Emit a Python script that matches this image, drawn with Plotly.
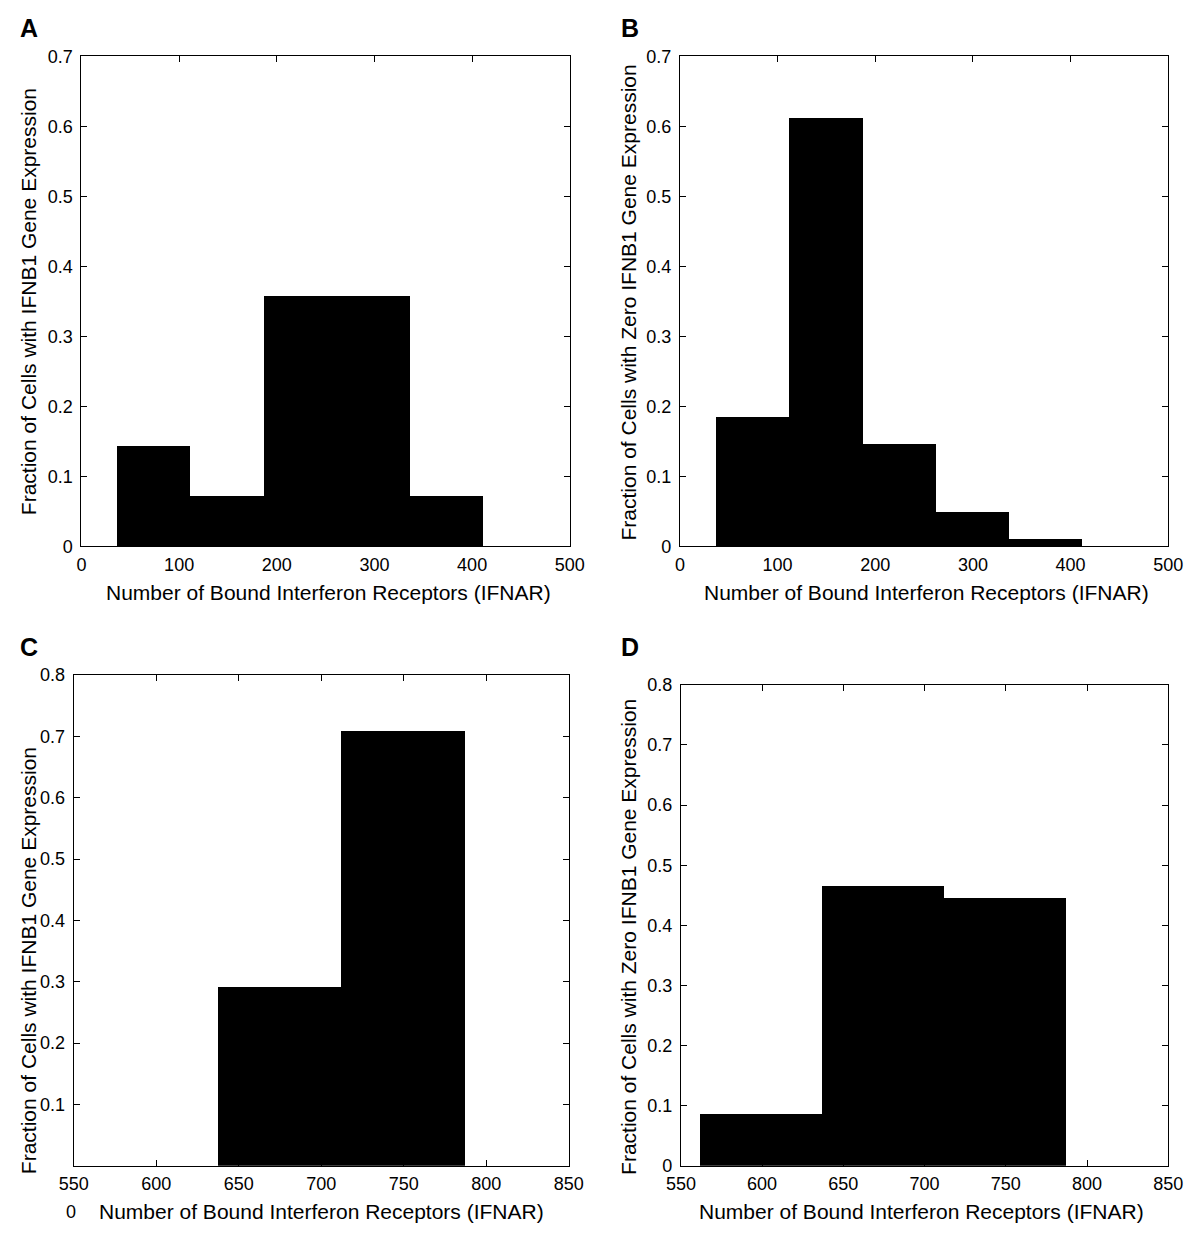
import plotly.graph_objects as go

# Reference canvas size and the page's default body margin
REF_W, REF_H = 1200, 1235
OFF = 8
W, H = REF_W - 2 * OFF, REF_H - 2 * OFF

# ---------------- data ----------------
edges_AB = [37, 112, 187, 262, 337, 412]
values_A = [0.143, 0.071, 0.357, 0.357, 0.071]
values_B = [0.184, 0.612, 0.146, 0.048, 0.010]

edges_C = [637, 712, 787]
values_C = [0.292, 0.709]

edges_D = [562, 637, 712, 787]
values_D = [0.086, 0.465, 0.446]

xticks_AB = [0, 100, 200, 300, 400, 500]
yticks_AB = [0, 0.1, 0.2, 0.3, 0.4, 0.5, 0.6, 0.7]
xticks_CD = [550, 600, 650, 700, 750, 800, 850]
yticks_C = [0.1, 0.2, 0.3, 0.4, 0.5, 0.6, 0.7, 0.8]
yticks_D = [0, 0.1, 0.2, 0.3, 0.4, 0.5, 0.6, 0.7, 0.8]

xtitle = "Number of Bound Interferon Receptors (IFNAR)"
ytitle_pos = "Fraction of Cells with IFNB1 Gene Expression"
ytitle_zero = "Fraction of Cells with Zero IFNB1 Gene Expression"

FONT = "Liberation Sans, Arial, Helvetica, sans-serif"


def centers(edges):
    return [(a + b) / 2 for a, b in zip(edges[:-1], edges[1:])]


def widths(edges):
    return [b - a for a, b in zip(edges[:-1], edges[1:])]


fig = go.Figure()
panels = [
    (edges_AB, values_A, "x", "y"),
    (edges_AB, values_B, "x2", "y2"),
    (edges_C, values_C, "x3", "y3"),
    (edges_D, values_D, "x4", "y4"),
]
for edges, vals, xa, ya in panels:
    fig.add_trace(go.Bar(x=centers(edges), y=vals, width=widths(edges),
                         marker=dict(color="black", line=dict(width=0)),
                         xaxis=xa, yaxis=ya, showlegend=False, hoverinfo="skip"))


def fx(x):
    return (x - OFF) / W


def fy(y):
    return 1 - (y - OFF) / H


def px_x(a, b):
    return [fx(a), fx(b)]


def px_y(top, bottom):
    return [fy(bottom), fy(top)]


common = dict(showline=True, mirror="ticks", linecolor="black", linewidth=1,
              ticks="inside", ticklen=6, tickcolor="black", tickwidth=1,
              showgrid=False, zeroline=False,
              tickfont=dict(family=FONT, size=18, color="black"))
xc = dict(ticklabelstandoff=2, **common)
yc = dict(ticklabelstandoff=4, **common)

layout_axes = {
    "xaxis": dict(domain=px_x(68, 569), range=[0, 500], tickvals=xticks_AB, anchor="y", **xc),
    "yaxis": dict(domain=px_y(47, 545), range=[0, 0.7], tickvals=yticks_AB, anchor="x", **yc),
    "xaxis2": dict(domain=px_x(682, 1183), range=[0, 500], tickvals=xticks_AB, anchor="y2", **xc),
    "yaxis2": dict(domain=px_y(47, 545), range=[0, 0.7], tickvals=yticks_AB, anchor="x2", **yc),
    "xaxis3": dict(domain=px_x(60, 568), range=[550, 850], tickvals=xticks_CD, anchor="y3", **xc),
    "yaxis3": dict(domain=px_y(676, 1175), range=[0, 0.8], tickvals=yticks_C, anchor="x3", **yc),
    "xaxis4": dict(domain=px_x(683, 1183), range=[550, 850], tickvals=xticks_CD, anchor="y4", **xc),
    "yaxis4": dict(domain=px_y(686, 1175), range=[0, 0.8], tickvals=yticks_D, anchor="x4", **yc),
}

ann = []


def text(x, y, s, size=21, angle=0, bold=False):
    ann.append(dict(x=fx(x), y=fy(y), xref="paper", yref="paper",
                    text=("<b>%s</b>" % s) if bold else s,
                    showarrow=False, textangle=angle, xanchor="center", yanchor="middle",
                    font=dict(family=FONT, size=size, color="black")))


# panel letters
text(14, 18, "A", 25, bold=True)
text(631, 18, "B", 25, bold=True)
text(14, 648, "C", 25, bold=True)
text(631, 648, "D", 25, bold=True)

# x titles
text(321, 592, xtitle)
text(935, 592, xtitle)
text(314, 1221, xtitle)
text(930, 1221, xtitle)

# y titles
text(13, 296, ytitle_pos, angle=-90)
text(629, 297, ytitle_zero, angle=-90)
text(13, 966, ytitle_pos, angle=-90)
text(629, 942, ytitle_zero, angle=-90)

# displaced zero label of panel C
text(57, 1222, "0", 18)

fig.update_layout(width=W, height=H, margin=dict(l=0, r=0, t=0, b=0, pad=0),
                  paper_bgcolor="white", plot_bgcolor="white",
                  bargap=0, annotations=ann, **layout_axes)

fig.write_html("out.html")
